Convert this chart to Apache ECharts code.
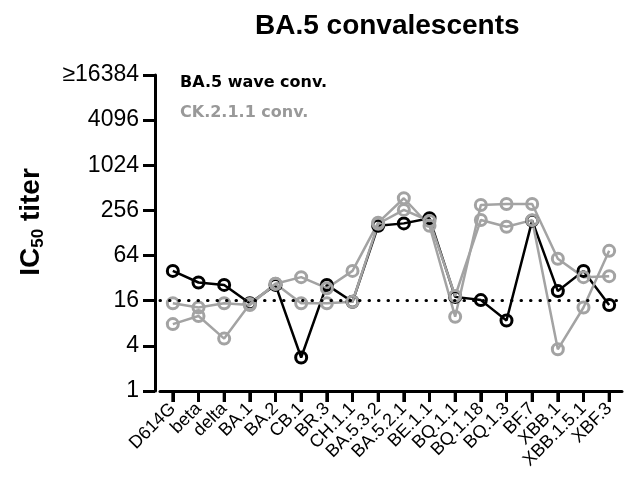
<!DOCTYPE html>
<html>
<head>
<meta charset="utf-8">
<script src="https://cdn.jsdelivr.net/npm/echarts@6/dist/echarts.min.js"></script>
<style>
  html, body { margin: 0; padding: 0; background: #fff; }
  #chart { width: 629px; height: 481px; background: #fff; }
</style>
</head>
<body>
<div id="chart"></div>
<script>
// Variants tested
const categories = ['D614G', 'beta', 'delta', 'BA.1', 'BA.2', 'CB.1', 'BR.3', 'CH.1.1',
  'BA.5.3.2', 'BA.5.2.1', 'BE.1.1', 'BQ.1.1', 'BQ.1.18', 'BQ.1.3', 'BF.7',
  'XBB.1', 'XBB.1.5.1', 'XBF.3'];

// IC50 titers, BA.5 wave convalescent
const ba5Wave = [40, 28, 26, 14.8, 26, 2.8, 26, 15.5, 160, 172, 201, 18, 16.3, 8.7, 187, 21.5, 40, 14];

// IC50 titers, CK.2.1.1 convalescents (two donors)
const ck2111A = [14.8, 13, 14.8, 14, 27, 33, 23.5, 40, 176, 372, 160, 9.8, 302, 312, 312, 58, 33, 34];
const ck2111B = [7.8, 10, 5.0, 14.5, 27, 14.8, 14.8, 15.5, 170, 260, 185, 18.5, 191, 155, 190, 3.6, 13, 74];

// Y-axis range and tick step (log2 scale, one tick every 2 doublings)
const yMin = 1;
const yMax = 16384;
const yTickStepLog2 = 2;
const detectionLimit = 16;

const BLACK = '#000000';
const GREY = '#a3a3a3';
const FONT = 'Liberation Sans, Arial, sans-serif';
const X_TICK_LEN = 11;

function lineSeries(name, values, color) {
  return {
    name: name,
    type: 'line',
    data: values,
    symbol: 'circle',
    symbolSize: 11,
    lineStyle: { color: color, width: 2.5 },
    itemStyle: { color: 'rgba(255,255,255,0)', borderColor: color, borderWidth: 3 }
  };
}

const chart = echarts.init(document.getElementById('chart'));

const blackSeries = lineSeries('BA.5 wave conv.', ba5Wave, BLACK);
blackSeries.markLine = {
  silent: true,
  symbol: 'none',
  label: { show: false },
  lineStyle: { color: BLACK, width: 3, type: [0.5, 9], cap: 'round' },
  data: [{ yAxis: detectionLimit }]
};

// Tick marks under each variant, placed through the category/log scales
const xTickSeries = {
  type: 'custom',
  silent: true,
  clip: false,
  z: 5,
  data: categories.map(c => [c, yMin]),
  encode: { x: 0, y: 1 },
  renderItem: function (params, api) {
    const p = api.coord([api.value(0), api.value(1)]);
    return {
      type: 'line',
      shape: { x1: p[0], y1: p[1], x2: p[0], y2: p[1] + X_TICK_LEN },
      style: { stroke: BLACK, lineWidth: 3 }
    };
  }
};

chart.setOption({
  animation: false,
  title: {
    text: 'BA.5 convalescents',
    left: 250,
    top: 7,
    textStyle: { fontFamily: FONT, fontSize: 28, fontWeight: 'bold', color: BLACK }
  },
  grid: { left: 160, right: 7, top: 75, bottom: 90 },
  xAxis: {
    type: 'category',
    data: categories,
    boundaryGap: true,
    axisLine: { show: true, lineStyle: { color: BLACK, width: 3 } },
    axisTick: { show: true, alignWithLabel: true, length: X_TICK_LEN, lineStyle: { color: BLACK, width: 3 } },
    axisLabel: {
      interval: 0,
      rotate: 45,
      margin: 15,
      fontFamily: FONT,
      fontSize: 18,
      color: BLACK
    },
    splitLine: { show: false }
  },
  yAxis: {
    type: 'log',
    logBase: 2,
    min: yMin,
    max: yMax,
    interval: yTickStepLog2,
    offset: 5,
    axisLine: { show: true, lineStyle: { color: BLACK, width: 3 } },
    axisTick: { show: true, length: 12, lineStyle: { color: BLACK, width: 3 } },
    axisLabel: {
      formatter: v => (Math.round(v) === yMax ? '≥' + yMax : String(Math.round(v))),
      margin: 16,
      fontFamily: FONT,
      fontSize: 23,
      color: BLACK
    },
    splitLine: { show: false }
  },
  graphic: [
    {
      type: 'text',
      x: 31,
      y: 222,
      rotation: Math.PI / 2,
      style: {
        text: '{a|IC}{s|50}{a| titer}',
        align: 'center',
        verticalAlign: 'middle',
        fill: BLACK,
        rich: {
          a: { fontFamily: FONT, fontSize: 28, fontWeight: 'bold', fill: BLACK },
          s: { fontFamily: FONT, fontSize: 17, fontWeight: 'bold', fill: BLACK, padding: [14, 0, 0, 0] }
        }
      }
    },
    {
      type: 'text',
      x: 180,
      y: 83,
      style: {
        text: 'BA.5 wave conv.',
        font: 'bold 16px "DejaVu Sans"',
        fill: BLACK,
        verticalAlign: 'middle'
      }
    },
    {
      type: 'text',
      x: 180,
      y: 113,
      style: {
        text: 'CK.2.1.1 conv.',
        font: 'bold 16px "DejaVu Sans"',
        fill: '#999999',
        verticalAlign: 'middle'
      }
    }
  ],
  series: [
    blackSeries,
    lineSeries('CK.2.1.1 conv.', ck2111A, GREY),
    lineSeries('CK.2.1.1 conv.', ck2111B, GREY),
    xTickSeries
  ]
});
</script>
</body>
</html>
